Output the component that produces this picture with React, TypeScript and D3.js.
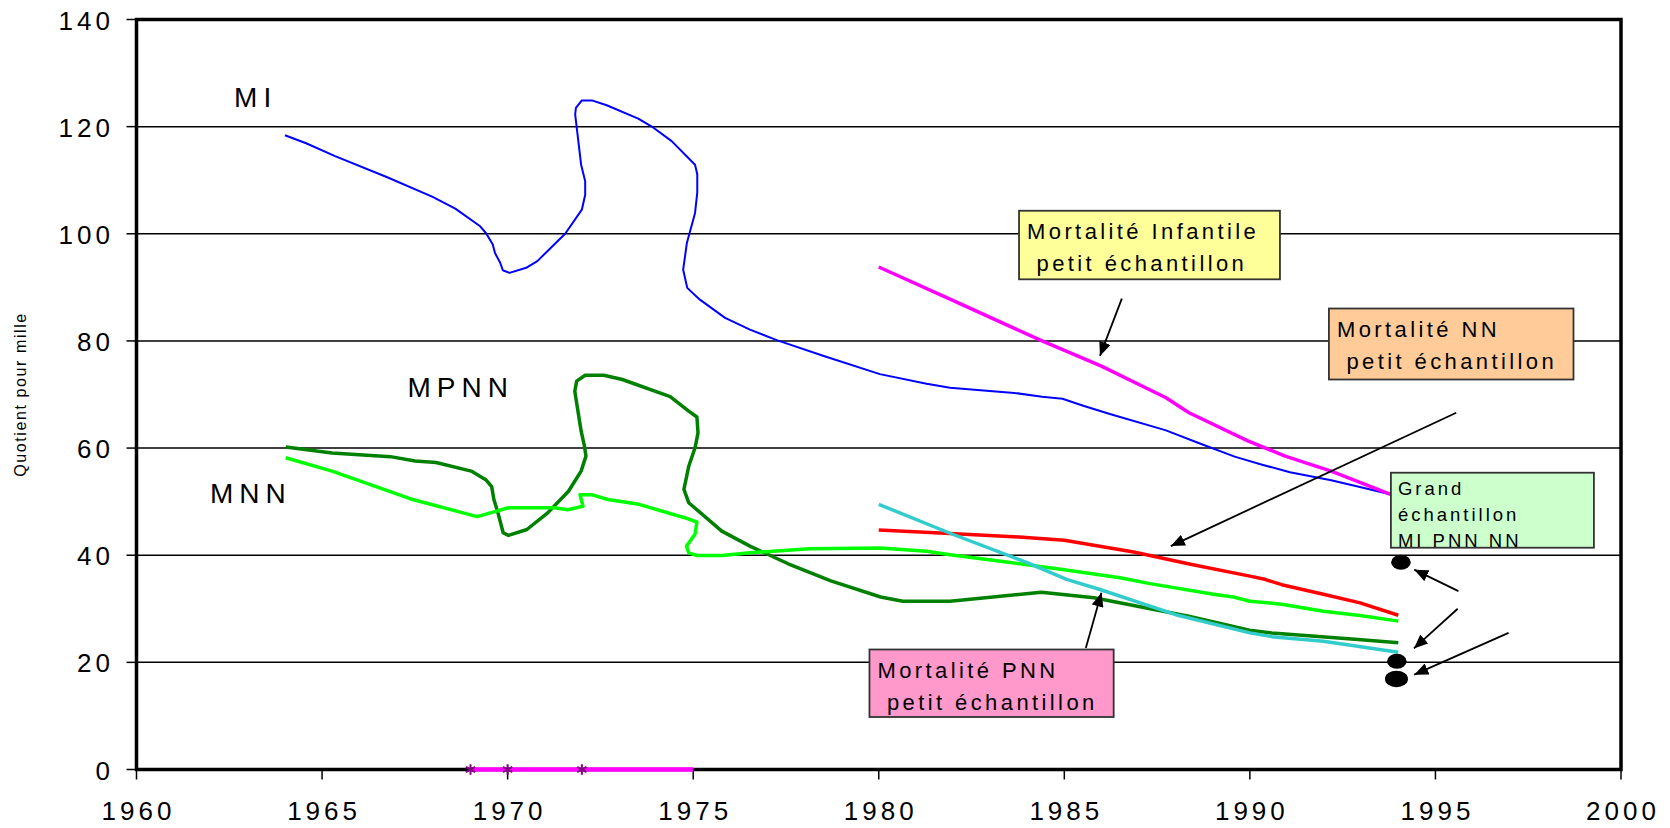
import * as d3 from 'd3';
import React from 'react';

// series: [year, quotient pour mille]
const miSeries: [number, number][] = [
  [1964.0, 118.4], [1964.57, 116.9], [1965.35, 114.5], [1966.74, 110.6], [1967.98, 106.9],
  [1968.59, 104.7], [1969.26, 101.4], [1969.42, 100.1], [1969.6, 98.0], [1969.66, 96.4],
  [1969.8, 94.6], [1969.87, 93.2], [1970.05, 92.7], [1970.5, 93.65], [1970.8, 94.9],
  [1971.55, 100.0], [1972.0, 104.5], [1972.09, 107.3], [1972.09, 109.8], [1971.98, 112.9],
  [1971.82, 122.3], [1971.84, 123.5], [1972.0, 124.9], [1972.27, 124.9], [1972.67, 124.0],
  [1973.52, 121.5], [1973.93, 119.8], [1974.42, 117.3], [1975.05, 112.9], [1975.11, 111.1],
  [1975.11, 107.7], [1975.05, 103.9], [1974.83, 98.3], [1974.73, 93.3], [1974.84, 89.9],
  [1975.18, 87.7], [1975.86, 84.3], [1976.53, 82.1], [1977.27, 80.1], [1978.56, 77.1],
  [1980.03, 73.8], [1981.29, 72.0], [1981.92, 71.25], [1983.65, 70.3], [1984.4, 69.6],
  [1984.95, 69.2], [1985.51, 67.9], [1986.25, 66.3], [1987.74, 63.3], [1988.6, 61.0],
  [1989.59, 58.4], [1990.33, 56.9], [1991.08, 55.5], [1992.19, 54.0], [1993.05, 52.6],
  [1994.0, 51.0],
];

const mpnnSeries: [number, number][] = [
  [1964.02, 60.2], [1965.27, 59.1], [1966.84, 58.4], [1967.51, 57.6], [1968.07, 57.3],
  [1969.02, 55.7], [1969.41, 54.1], [1969.57, 52.8], [1969.63, 50.4], [1969.74, 47.9],
  [1969.88, 44.2], [1970.02, 43.7], [1970.52, 44.8], [1971.08, 47.9], [1971.64, 51.95],
  [1971.98, 55.7], [1972.11, 58.5], [1972.07, 60.35], [1971.98, 63.2], [1971.81, 70.6],
  [1971.86, 72.5], [1972.09, 73.6], [1972.59, 73.6], [1973.09, 72.8], [1974.38, 69.6],
  [1974.88, 66.9], [1975.1, 65.8], [1975.13, 62.85], [1975.05, 60.05], [1974.88, 56.6],
  [1974.75, 52.3], [1974.88, 49.8], [1975.77, 44.5], [1976.53, 41.7], [1977.56, 38.4],
  [1978.71, 35.2], [1980.05, 32.2], [1980.65, 31.4], [1981.92, 31.4], [1984.38, 33.1],
  [1985.8, 32.05], [1988.35, 28.6], [1989.99, 26.0], [1990.59, 25.5], [1992.83, 24.3],
  [1994.0, 23.65],
];

const mnnSeries: [number, number][] = [
  [1964.02, 58.2], [1965.27, 55.7], [1967.39, 50.5], [1969.18, 47.2], [1970.02, 48.85],
  [1971.25, 48.85], [1971.62, 48.5], [1972.03, 49.15], [1971.95, 51.3], [1972.26, 51.3],
  [1972.7, 50.4], [1973.54, 49.5], [1974.77, 47.0], [1975.1, 46.2], [1975.05, 43.9],
  [1974.82, 41.7], [1974.88, 40.45], [1975.1, 39.95], [1975.77, 39.95], [1976.53, 40.45],
  [1978.13, 41.2], [1980.03, 41.35], [1981.29, 40.75], [1981.92, 40.1], [1985.0, 37.3],
  [1986.5, 35.8], [1987.31, 34.7], [1989.02, 32.7], [1989.56, 32.2], [1990.0, 31.4],
  [1990.54, 31.1], [1990.9, 30.8], [1991.98, 29.55], [1992.97, 28.75], [1994.0, 27.7],
];

const miSmall: [number, number][] = [
  [1980.0, 93.8], [1981.92, 87.8], [1984.4, 80.0], [1986.0, 75.3], [1987.74, 69.4],
  [1988.36, 66.6], [1989.96, 61.3], [1990.95, 58.5], [1992.19, 55.7], [1994.0, 50.8],
];

const nnSmall: [number, number][] = [
  [1980.0, 44.7], [1981.92, 44.05], [1983.78, 43.4], [1985.0, 42.8], [1986.87, 40.6],
  [1988.4, 38.3], [1990.0, 36.1], [1990.4, 35.5], [1990.86, 34.5], [1991.98, 32.7],
  [1992.97, 31.1], [1994.0, 28.8],
];

const pnnSmall: [number, number][] = [
  [1980.0, 49.5], [1981.92, 44.1], [1984.0, 38.6], [1985.06, 35.5], [1985.96, 33.6],
  [1988.0, 28.9], [1990.0, 25.5], [1990.59, 24.8], [1991.98, 23.95], [1994.0, 21.9],
];

const zeroLine: [number, number][] = [[1969, 0], [1975, 0]];
const zeroMarks: number[] = [1969, 1970, 1972];

// grand échantillon 1994: MI, PNN, NN
const bigSample: [number, number][] = [[1994.07, 38.7], [1993.96, 20.2], [1993.95, 16.9]];

const xTicks = [1960, 1965, 1970, 1975, 1980, 1985, 1990, 1995, 2000];
const yTicks = [0, 20, 40, 60, 80, 100, 120, 140];

const seriesLabels = [
  { text: 'MI', year: 1962.63, value: 123.6 },
  { text: 'MPNN', year: 1967.3, value: 69.5 },
  { text: 'MNN', year: 1961.98, value: 49.8 },
];

const boxes = [
  { lines: ['Mortalité Infantile', ' petit échantillon'], x0: 1983.78, x1: 1990.81, y0: 104.3, y1: 91.5, fill: '#ffff99' },
  { lines: ['Mortalité NN', ' petit échantillon'], x0: 1992.13, x1: 1998.72, y0: 86.05, y1: 72.8, fill: '#ffcc99' },
  { lines: ['Mortalité PNN', ' petit échantillon'], x0: 1979.75, x1: 1986.33, y0: 22.4, y1: 9.8, fill: '#ff99cc' },
];
const bigBox = { lines: ['Grand', 'échantillon', 'MI PNN NN'], x0: 1993.8, x1: 1999.27, y0: 55.4, y1: 41.4, fill: '#ccffcc' };

const arrows = [
  { from: [1986.55, 87.9], to: [1985.96, 77.2] },
  { from: [1995.56, 66.6], to: [1987.87, 41.7] },
  { from: [1995.62, 33.3], to: [1994.43, 37.3] },
  { from: [1995.6, 30.0], to: [1994.42, 22.6] },
  { from: [1996.97, 25.5], to: [1994.43, 17.7] },
  { from: [1985.58, 22.7], to: [1986.0, 33.0] },
];

const W = 1670;
const H = 828;
const FONT = '"Liberation Sans", Arial, sans-serif';

const App = () => {
  const x = d3.scaleLinear().domain([1960, 2000]).range([136.5, 1621]);
  const y = d3.scaleLinear().domain([0, 140]).range([769.5, 19.5]);

  const line = d3.line<[number, number]>()
    .x(d => x(d[0]))
    .y(d => y(d[1]))
    .curve(d3.curveLinear);

  const star = d3.symbol().type(d3.symbolAsterisk).size(80)();

  const series = [
    { data: miSeries, color: '#0000ff', w: 2 },
    { data: mpnnSeries, color: '#008000', w: 3.5 },
    { data: mnnSeries, color: '#00ff00', w: 3.5 },
    { data: nnSmall, color: '#ff0000', w: 3.5 },
    { data: miSmall, color: '#ff00ff', w: 3.5 },
    { data: pnnSmall, color: '#33cccc', w: 3.5 },
  ];

  const [xl, xr] = x.range();
  const [yb, yt] = y.range();

  return (
    <svg width={W} height={H} style={{ position: 'absolute', left: 0, top: 0, background: '#fff' }}
      fontFamily={FONT}>
      <defs>
        <marker id="head" markerUnits="userSpaceOnUse" viewBox="0 0 14 12" refX="14" refY="6"
          markerWidth="14" markerHeight="12" orient="auto">
          <path d="M0,0 L14,6 L0,12 Z" fill="#000" />
        </marker>
        <clipPath id="bigclip">
          <rect x={x(bigBox.x0)} y={y(bigBox.y0)} width={x(bigBox.x1) - x(bigBox.x0)}
            height={y(bigBox.y1) - y(bigBox.y0)} />
        </clipPath>
      </defs>

      {/* grid */}
      {yTicks.filter(t => t > 0 && t < 140).map(t => (
        <line key={'g' + t} x1={xl} x2={xr} y1={y(t)} y2={y(t)} stroke="#000" strokeWidth={1.5} />
      ))}

      {/* ticks + labels */}
      {yTicks.map(t => (
        <g key={'yt' + t}>
          <line x1={xl - 10} x2={xl} y1={y(t)} y2={y(t)} stroke="#000" strokeWidth={1.5} />
          <text x={114} y={y(t) + 10} textAnchor="end" fontSize={26} letterSpacing={4} fill="#000">{t}</text>
        </g>
      ))}
      {xTicks.map(t => (
        <g key={'xt' + t}>
          <line x1={x(t)} x2={x(t)} y1={yb} y2={yb + 10} stroke="#000" strokeWidth={1.5} />
          <text x={x(t) + 2} y={820} textAnchor="middle" fontSize={26} letterSpacing={4} fill="#000">{t}</text>
        </g>
      ))}
      <text transform={`translate(26,${(yt + yb) / 2}) rotate(-90)`} textAnchor="middle" fontSize={16}
        letterSpacing={1.6} fill="#000">Quotient pour mille</text>

      {/* frame */}
      <rect x={xl} y={yt} width={xr - xl} height={yb - yt} fill="none" stroke="#000" strokeWidth={3.5} />

      {/* series */}
      {series.map((s, i) => (
        <path key={'s' + i} d={line(s.data) || ''} fill="none" stroke={s.color} strokeWidth={s.w}
          strokeLinejoin="round" />
      ))}

      <path d={line(zeroLine) || ''} fill="none" stroke="#ff00ff" strokeWidth={4.5} />
      {zeroMarks.map(m => (
        <path key={'m' + m} d={star || ''} transform={`translate(${x(m)},${y(0)})`} fill="none"
          stroke="#800080" strokeWidth={2} />
      ))}

      {bigSample.map((d, i) => (
        <ellipse key={'b' + i} cx={x(d[0])} cy={y(d[1])} rx={i === 2 ? 11.5 : 9.8} ry={i === 2 ? 8.3 : 7.5} fill="#000" />
      ))}

      {/* series names */}
      {seriesLabels.map(l => (
        <text key={l.text} x={x(l.year)} y={y(l.value)} fontSize={28} letterSpacing={6} fill="#000">{l.text}</text>
      ))}

      {/* boxes */}
      {boxes.map((b, i) => {
        const bx = x(b.x0);
        const by = y(b.y0);
        return (
          <g key={'box' + i}>
            <rect x={bx} y={by} width={x(b.x1) - bx} height={y(b.y1) - by} fill={b.fill}
              stroke="#333" strokeWidth={1.8} />
            {b.lines.map((t, j) => (
              <text key={j} x={bx + 8} y={by + 28 + j * 32} fontSize={22} letterSpacing={3.4}
                style={{ whiteSpace: 'pre' }} fill="#000">{t}</text>
            ))}
          </g>
        );
      })}
      <g>
        <rect x={x(bigBox.x0)} y={y(bigBox.y0)} width={x(bigBox.x1) - x(bigBox.x0)}
          height={y(bigBox.y1) - y(bigBox.y0)} fill={bigBox.fill} stroke="#333" strokeWidth={1.8} />
        <g clipPath="url(#bigclip)">
          {bigBox.lines.map((t, j) => (
            <text key={j} x={x(bigBox.x0) + 7} y={y(bigBox.y0) + 22 + j * 26} fontSize={18.5}
              letterSpacing={3} fill="#000">{t}</text>
          ))}
        </g>
      </g>

      {/* arrows */}
      {arrows.map((a, i) => (
        <line key={'a' + i} x1={x(a.from[0])} y1={y(a.from[1])} x2={x(a.to[0])} y2={y(a.to[1])}
          stroke="#000" strokeWidth={1.8} markerEnd="url(#head)" />
      ))}
    </svg>
  );
};

export default App;
